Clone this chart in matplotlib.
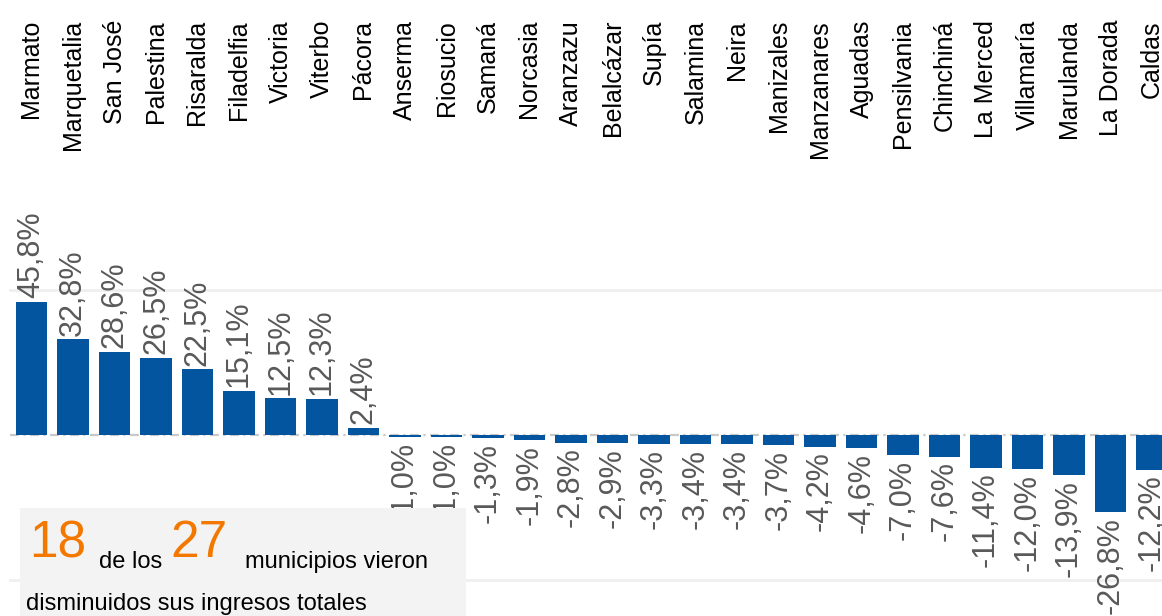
import matplotlib
matplotlib.use("Agg")
import matplotlib.pyplot as plt
from matplotlib.patches import Rectangle
import matplotlib.transforms as mtransforms

plt.rcParams['font.family'] = ['Liberation Sans', 'DejaVu Sans']

# municipios de Caldas y variación de ingresos totales (%)
municipios = ['Marmato', 'Marquetalia', 'San José', 'Palestina', 'Risaralda',
              'Filadelfia', 'Victoria', 'Viterbo', 'Pácora', 'Anserma',
              'Riosucio', 'Samaná', 'Norcasia', 'Aranzazu', 'Belalcázar',
              'Supía', 'Salamina', 'Neira', 'Manizales', 'Manzanares',
              'Aguadas', 'Pensilvania', 'Chinchiná', 'La Merced', 'Villamaría',
              'Marulanda', 'La Dorada', 'Caldas']
variacion = [45.8, 32.8, 28.6, 26.5, 22.5, 15.1, 12.5, 12.3, 2.4, -1.0,
             -1.0, -1.3, -1.9, -2.8, -2.9, -3.3, -3.4, -3.4, -3.7, -4.2,
             -4.6, -7.0, -7.6, -11.4, -12.0, -13.9, -26.8, -12.2]
gridlines = [50, -50]

W, H = 1162, 616
fig = plt.figure(figsize=(W / 100, H / 100), dpi=100)
ax = fig.add_axes([0, 0, 1, 1])
ax.axis('off')

step = 41.5
x0 = 31.5
ax.set_xlim(-x0 / step, (W - x0) / step)
scale = 2.9
zero_px = 434.5
ax.set_ylim(-(H - zero_px) / scale, zero_px / scale)

blue = '#04559f'
ax.bar(range(len(municipios)), variacion, width=0.75, color=blue, zorder=2)

xmin = 10 / W
for g in gridlines:
    ax.axhline(g, xmin=xmin, color='#efefef', lw=2, zorder=0)
ax.axhline(0, xmin=xmin, color='#c8c8c8', lw=1.6, ls=(0, (4, 2, 1, 2)), zorder=1)

top = mtransforms.blended_transform_factory(ax.transData, ax.transAxes)
for i, name in enumerate(municipios):
    ax.text(i, 1 - 20 / H, name, transform=top, rotation=90, ha='center',
            va='top', fontsize=18, color='black')

for i, v in enumerate(variacion):
    txt = f'{v:.1f}%'.replace('.', ',')
    if v >= 0:
        ax.annotate(txt, (i, v), xytext=(0, 2.5), textcoords='offset points',
                    rotation=90, ha='center', va='bottom', fontsize=22,
                    color='#595959', zorder=3)
    else:
        ax.annotate(txt, (i, v), xytext=(0, -3.5), textcoords='offset points',
                    rotation=90, ha='center', va='top', fontsize=22,
                    color='#595959', zorder=3)

# recuadro de resumen
box = Rectangle((20 / W, 0), 446 / W, (H - 508) / H, transform=fig.transFigure,
                facecolor='#f3f3f3', edgecolor='none', zorder=10)
fig.patches.append(box)

orange = '#f27800'
fig.text(29 / W, 1 - 557 / H, '18', color=orange, fontsize=37, zorder=11)
fig.text(99 / W, 1 - 568 / H, 'de los', color='black', fontsize=17, zorder=11)
fig.text(170 / W, 1 - 557 / H, '27', color=orange, fontsize=37, zorder=11)
fig.text(245 / W, 1 - 568 / H, 'municipios vieron', color='black', fontsize=17, zorder=11)
fig.text(26 / W, 1 - 610 / H, 'disminuidos sus ingresos totales', color='black',
         fontsize=17, zorder=11)

fig.savefig('out.png', dpi=100)
